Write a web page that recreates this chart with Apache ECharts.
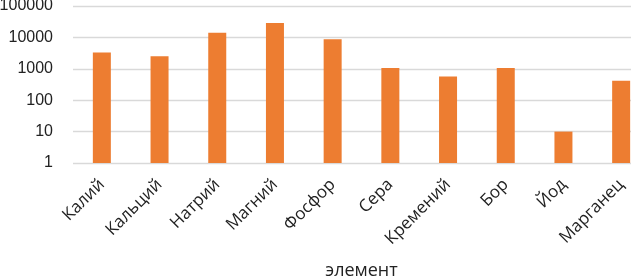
<!DOCTYPE html>
<html><head><meta charset="utf-8">
<script src="https://cdn.jsdelivr.net/npm/echarts@6/dist/echarts.min.js"></script>
<style>html,body{margin:0;padding:0;background:#fff;overflow:hidden}#c{width:631px;height:276px}</style>
</head><body><div id="c"></div>
<script>
const categories = ['Калий','Кальций','Натрий','Магний','Фосфор','Сера','Кремений','Бор','Йод','Марганец'];
const values = [3300, 2500, 14000, 29000, 8700, 1060, 570, 1060, 10, 420];
const axisName = 'элемент';

const chart = echarts.init(document.getElementById('c'), null, {renderer:'canvas'});
chart.setOption({
  animation:false,
  grid:{left:73, width:577, top:6, bottom:113, containLabel:false, outerBoundsMode:'none'},
  xAxis:{
    type:'category', data:categories,
    name:axisName, nameLocation:'middle', nameGap:99,
    nameTextStyle:{fontFamily:'Open Sans', fontSize:18, color:'#222'},
    axisLine:{show:false}, axisTick:{show:false},
    axisLabel:{rotate:45, interval:0, margin:19, fontFamily:'Open Sans', fontSize:17, color:'#222'}
  },
  yAxis:{
    type:'log', min:1, max:100000, logBase:10,
    axisLine:{show:false}, axisTick:{show:false},
    splitLine:{lineStyle:{color:'#d9d9d9', width:1.3}},
    axisLabel:{margin:20, fontFamily:'Liberation Sans', fontSize:16, color:'#222', formatter:function(v){return String(Math.round(v));}}
  },
  series:[{type:'bar', data:values, barWidth:18, itemStyle:{color:'#ED7D31'}}]
});
</script></body></html>
